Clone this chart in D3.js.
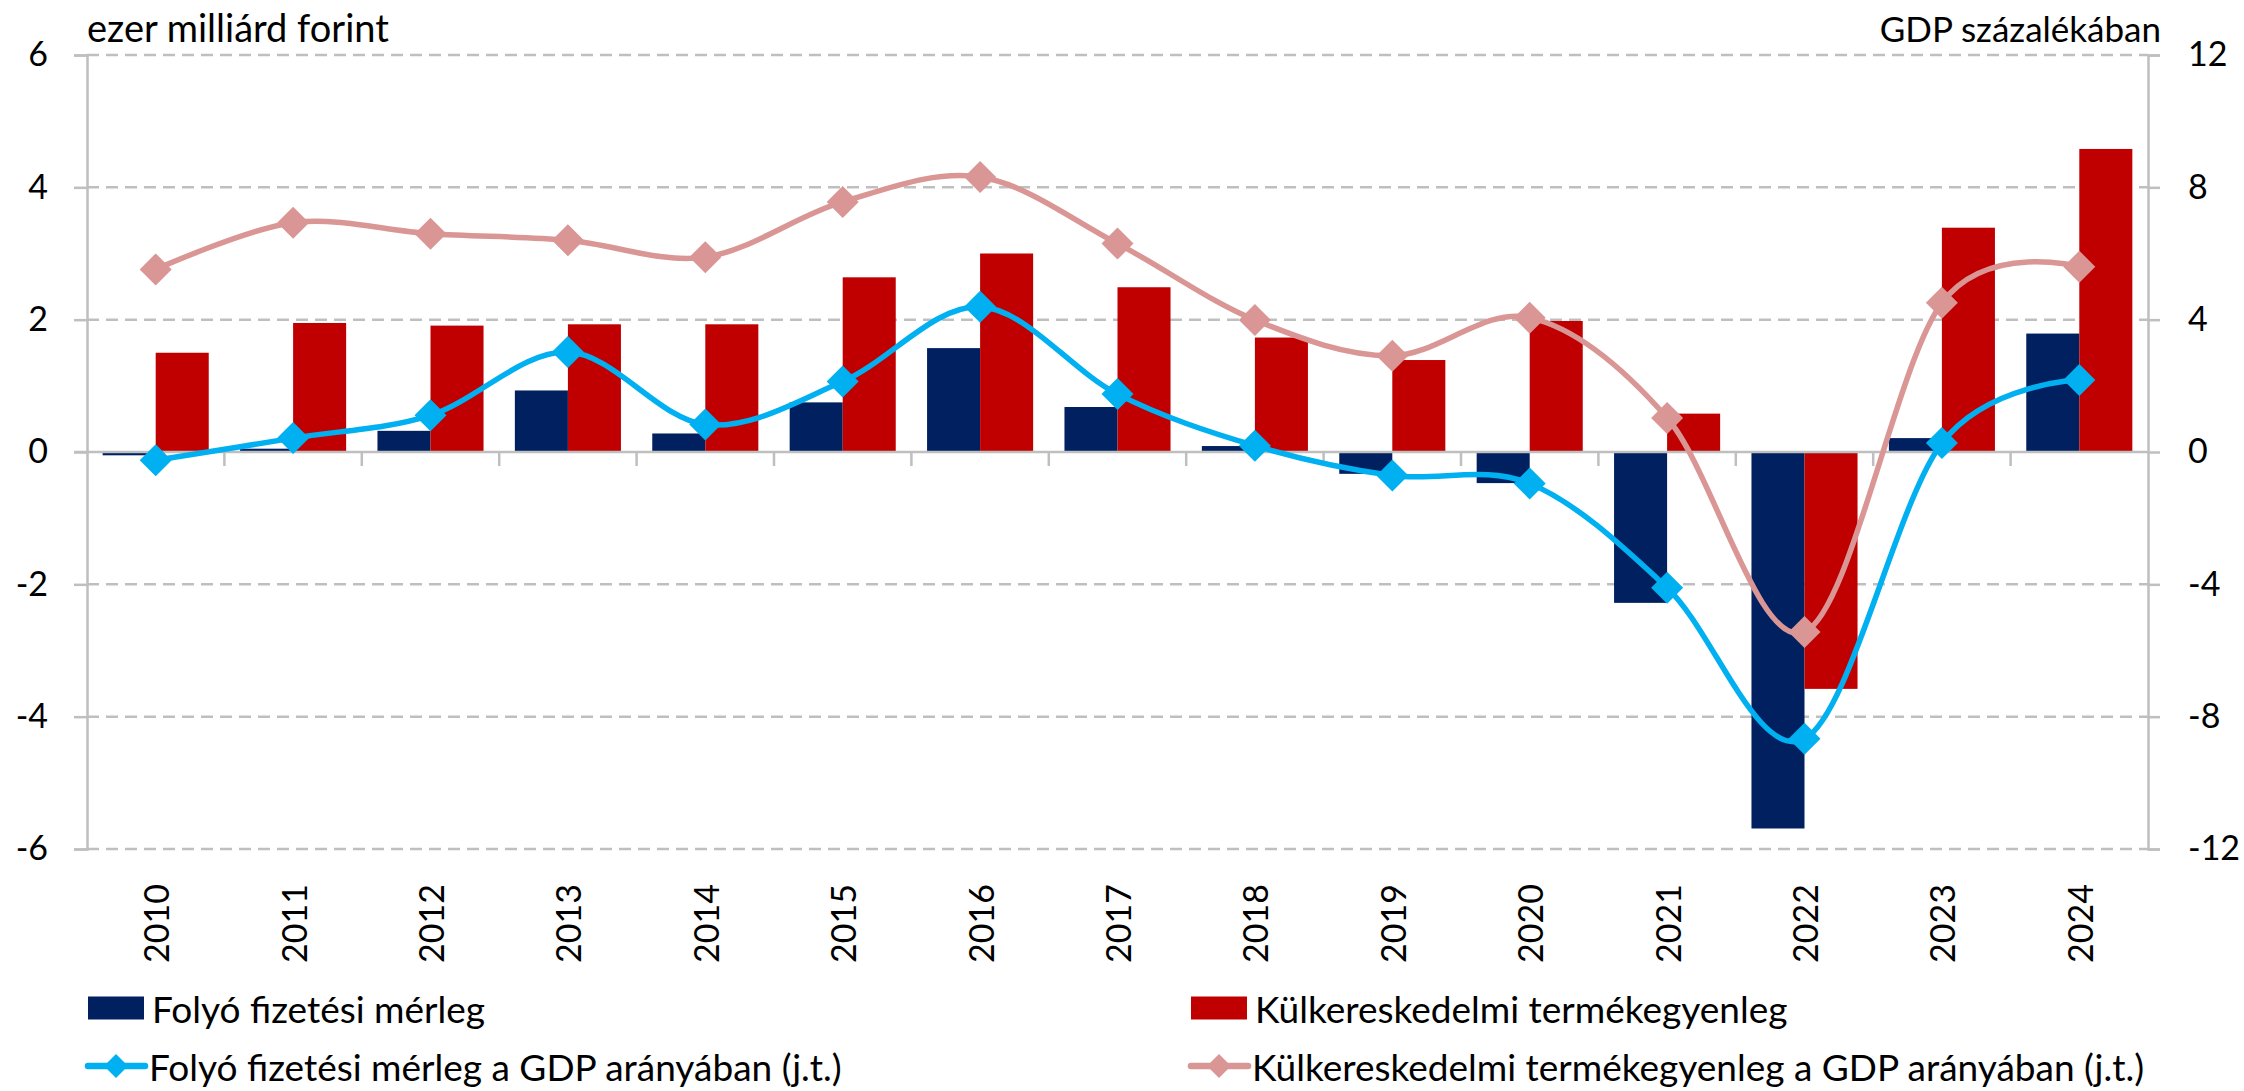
<!DOCTYPE html>
<html>
<head>
<meta charset="utf-8">
<script src="https://cdn.jsdelivr.net/npm/d3@7"></script>
<style>
  body { margin: 0; background: #fff; }
  text { font-family: Lato, "Open Sans", sans-serif; fill: #000; }
</style>
</head>
<body>
<div id="chart"></div>
<script>
// data
let years = ["2010", "2011", "2012", "2013", "2014", "2015", "2016", "2017",
    "2018", "2019", "2020", "2021", "2022", "2023", "2024"];
// ezer milliárd forint
let folyo = [-0.05, 0.05, 0.32, 0.93, 0.28, 0.75, 1.57, 0.68, 0.09, -0.33, -0.47, -2.28, -5.69, 0.21, 1.79];
let kulker = [1.50, 1.95, 1.91, 1.93, 1.93, 2.64, 3.00, 2.49, 1.73, 1.39, 1.98, 0.58, -3.58, 3.39, 4.58];
// GDP százalékában (j.t.)
let folyoGdp = [-0.25, 0.42, 1.11, 3.02, 0.83, 2.13, 4.39, 1.75, 0.19, -0.71, -0.95, -4.10, -8.67, 0.27, 2.18];
let kulkerGdp = [5.52, 6.93, 6.60, 6.40, 5.89, 7.56, 8.31, 6.30, 3.99, 2.91, 4.06, 1.03, -5.44, 4.51, 5.60];

let leftTicks = [-6, -4, -2, 0, 2, 4, 6];
let rightTicks = [-12, -8, -4, 0, 4, 8, 12];

let names = ["Folyó fizetési mérleg", "Külkereskedelmi termékegyenleg",
    "Folyó fizetési mérleg a GDP arányában (j.t.)",
    "Külkereskedelmi termékegyenleg a GDP arányában (j.t.)"];

let w = 2244;
let h = 1091;
let pLeft = 87, pRight = 2148, pTop = 55, pBottom = 849;

let navy = "#002060", red = "#C00000", cyan = "#00B0F0", pink = "#D99694", grey = "#BFBFBF";

let svg = d3.select("#chart")
    .append("svg")
    .attr("width", w)
    .attr("height", h);

let x = d3.scaleBand().domain(years).range([pLeft, pRight]).paddingInner(0.228).paddingOuter(0.114);
let xs = d3.scaleBand().domain(["folyo", "kulker"]).range([0, x.bandwidth()]);
let yL = d3.scaleLinear().domain([-6, 6]).range([pBottom, pTop]);
let yR = d3.scaleLinear().domain([-12, 12]).range([pBottom, pTop]);
let step = x.step();

// gridlines
svg.selectAll("line.grid")
    .data(leftTicks.filter(d => d != 0))
    .enter()
    .append("line")
    .attr("class", "grid")
    .attr("x1", pLeft)
    .attr("x2", pRight)
    .attr("y1", d => yL(d))
    .attr("y2", d => yL(d))
    .attr("stroke", grey)
    .attr("stroke-width", 2.5)
    .attr("stroke-dasharray", "12,7");

// left axis
let axL = svg.append("g")
    .attr("transform", "translate(" + pLeft + ",0)")
    .call(d3.axisLeft(yL).tickValues(leftTicks).tickSize(13).tickPadding(26).tickFormat(d => String(d)));
axL.select(".domain").attr("stroke", grey).attr("stroke-width", 2.5);
axL.selectAll(".tick line").attr("stroke", grey).attr("stroke-width", 2.5);
axL.selectAll("text").attr("font-size", "34px").style("font-family", "Lato");

// right axis
let axR = svg.append("g")
    .attr("transform", "translate(" + pRight + ",0)")
    .call(d3.axisRight(yR).tickValues(rightTicks).tickSize(12).tickPadding(28).tickFormat(d => String(d)));
axR.select(".domain").attr("stroke", grey).attr("stroke-width", 2.5);
axR.selectAll(".tick line").attr("stroke", grey).attr("stroke-width", 2.5);
axR.selectAll("text").attr("font-size", "34px").style("font-family", "Lato");

// bars
svg.selectAll("rect.folyo")
    .data(years)
    .enter()
    .append("rect")
    .attr("x", d => x(d) + xs("folyo"))
    .attr("y", (d, i) => yL(Math.max(0, folyo[i])))
    .attr("width", xs.bandwidth())
    .attr("height", (d, i) => Math.abs(yL(folyo[i]) - yL(0)))
    .attr("fill", navy);

svg.selectAll("rect.kulker")
    .data(years)
    .enter()
    .append("rect")
    .attr("x", d => x(d) + xs("kulker"))
    .attr("y", (d, i) => yL(Math.max(0, kulker[i])))
    .attr("width", xs.bandwidth())
    .attr("height", (d, i) => Math.abs(yL(kulker[i]) - yL(0)))
    .attr("fill", red);

// zero line + category ticks
svg.append("line")
    .attr("x1", pLeft - 13).attr("x2", pRight)
    .attr("y1", yL(0)).attr("y2", yL(0))
    .attr("stroke", grey).attr("stroke-width", 2.5);

svg.selectAll("line.ctick")
    .data(d3.range(1, years.length))
    .enter()
    .append("line")
    .attr("x1", d => pLeft + d * step)
    .attr("x2", d => pLeft + d * step)
    .attr("y1", yL(0))
    .attr("y2", yL(0) + 14)
    .attr("stroke", grey)
    .attr("stroke-width", 2.5);

// year labels
svg.selectAll("text.year")
    .data(years)
    .enter()
    .append("text")
    .text(d => d)
    .attr("transform", d => "translate(" + (x(d) + x.bandwidth() / 2) + ",884) rotate(-90)")
    .attr("text-anchor", "end")
    .attr("dominant-baseline", "central")
    .attr("font-size", "34px");

// lines
let diamond = "M0,-16L16,0L0,16L-16,0Z";
function drawLine(vals, color) {
    let line = d3.line()
        .x((d, i) => x(years[i]) + x.bandwidth() / 2)
        .y(d => yR(d))
        .curve(d3.curveCardinal.tension(0));
    svg.append("path")
        .datum(vals)
        .attr("d", line)
        .attr("fill", "none")
        .attr("stroke", color)
        .attr("stroke-width", 5.5);
    svg.append("g")
        .selectAll("path")
        .data(vals)
        .enter()
        .append("path")
        .attr("d", diamond)
        .attr("transform", (d, i) => "translate(" + (x(years[i]) + x.bandwidth() / 2) + "," + yR(d) + ")")
        .attr("fill", color);
}
drawLine(kulkerGdp, pink);
drawLine(folyoGdp, cyan);

// axis titles
svg.append("text")
    .text("ezer milliárd forint")
    .attr("x", pLeft)
    .attr("y", 42)
    .attr("font-size", "38px");

svg.append("text")
    .text("GDP százalékában")
    .attr("x", 2161)
    .attr("y", 42)
    .attr("text-anchor", "end")
    .attr("font-size", "35px");

// legend
let legend = [
    {name: names[0], color: navy, type: "bar", x: 88, y: 1008},
    {name: names[1], color: red, type: "bar", x: 1191, y: 1008},
    {name: names[2], color: cyan, type: "line", x: 85, y: 1066},
    {name: names[3], color: pink, type: "line", x: 1188, y: 1066}
];

let lg = svg.selectAll("g.legend")
    .data(legend)
    .enter()
    .append("g")
    .attr("transform", d => "translate(" + d.x + "," + d.y + ")");

lg.filter(d => d.type == "bar")
    .append("rect")
    .attr("x", 0)
    .attr("y", -11.5)
    .attr("width", 56)
    .attr("height", 23)
    .attr("fill", d => d.color);

lg.filter(d => d.type == "line")
    .append("line")
    .attr("x1", 3).attr("x2", 60)
    .attr("y1", 0).attr("y2", 0)
    .attr("stroke", d => d.color)
    .attr("stroke-width", 6.5)
    .attr("stroke-linecap", "round");

lg.filter(d => d.type == "line")
    .append("path")
    .attr("d", "M0,-12L12,0L0,12L-12,0Z")
    .attr("transform", "translate(31,0)")
    .attr("fill", d => d.color);

lg.append("text")
    .text(d => d.name)
    .attr("x", 64)
    .attr("y", 0)
    .attr("dominant-baseline", "central")
    .attr("font-size", "37px");
</script>
</body>
</html>
